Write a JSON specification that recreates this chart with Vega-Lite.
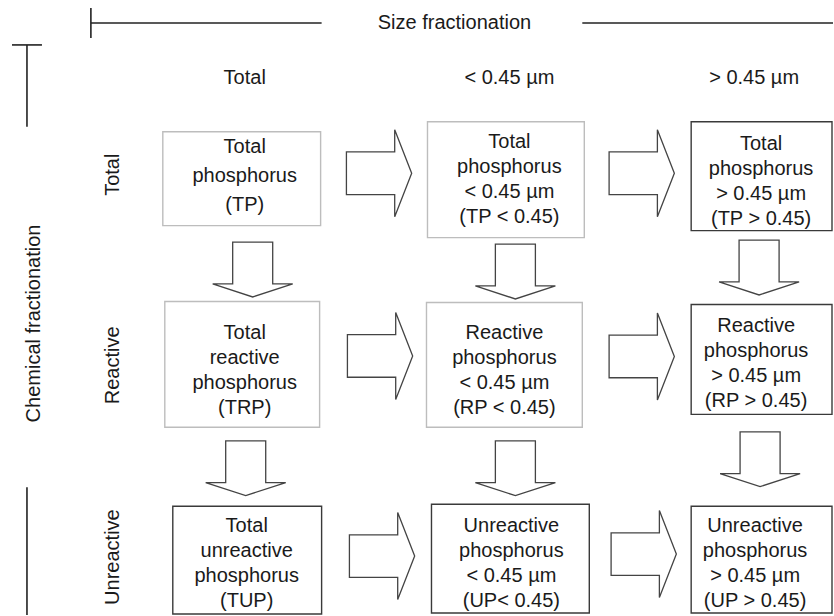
{
  "$schema": "https://vega.github.io/schema/vega-lite/v6.json",
  "width": 834,
  "height": 616,
  "autosize": {"type": "fit", "contains": "padding"},
  "padding": 0,
  "background": "white",
  "config": {"view": {"stroke": null}},
  "datasets": {
    "rules": [
      {"part": "size left", "x": 91, "x2": 322, "y": 23, "y2": 23},
      {"part": "size tick", "x": 91, "x2": 91, "y": 8, "y2": 38},
      {"part": "size right", "x": 583, "x2": 834, "y": 23, "y2": 23},
      {"part": "chem tick", "x": 12, "x2": 42, "y": 45, "y2": 45},
      {"part": "chem top", "x": 27, "x2": 27, "y": 45, "y2": 127},
      {"part": "chem bottom", "x": 27, "x2": 27, "y": 488, "y2": 616}
    ],
    "boxes": [
      {"id": "TP", "type": "measured", "x": 163, "x2": 321, "y": 132, "y2": 226, "cx": 245, "cy": 147, "label": ["Total", "phosphorus", "(TP)"]},
      {"id": "TP<0.45", "type": "measured", "x": 428, "x2": 585, "y": 122, "y2": 238, "cx": 510, "cy": 142, "label": ["Total", "phosphorus", "< 0.45 µm", "(TP < 0.45)"]},
      {"id": "TP>0.45", "type": "calculated", "x": 692, "x2": 833, "y": 122, "y2": 231, "cx": 762, "cy": 144, "label": ["Total", "phosphorus", "> 0.45 µm", "(TP > 0.45)"]},
      {"id": "TRP", "type": "measured", "x": 165, "x2": 320, "y": 302, "y2": 428, "cx": 245, "cy": 334, "label": ["Total", "reactive", "phosphorus", "(TRP)"]},
      {"id": "RP<0.45", "type": "measured", "x": 427, "x2": 583, "y": 303, "y2": 428, "cx": 505, "cy": 334, "label": ["Reactive", "phosphorus", "< 0.45 µm", "(RP < 0.45)"]},
      {"id": "RP>0.45", "type": "calculated", "x": 692, "x2": 833, "y": 305, "y2": 415, "cx": 757, "cy": 327, "label": ["Reactive", "phosphorus", "> 0.45 µm", "(RP > 0.45)"]},
      {"id": "TUP", "type": "calculated", "x": 173, "x2": 322, "y": 507, "y2": 615, "cx": 247, "cy": 527, "label": ["Total", "unreactive", "phosphorus", "(TUP)"]},
      {"id": "UP<0.45", "type": "calculated", "x": 432, "x2": 590, "y": 505, "y2": 614, "cx": 512, "cy": 527, "label": ["Unreactive", "phosphorus", "< 0.45 µm", "(UP<  0.45)"]},
      {"id": "UP>0.45", "type": "calculated", "x": 692, "x2": 833, "y": 507, "y2": 614, "cx": 756, "cy": 527, "label": ["Unreactive", "phosphorus", "> 0.45 µm", "(UP > 0.45)"]}
    ],
    "arrows": [
      {"from": "TP", "to": "TP<0.45", "direction": "right", "x": 379.5, "y": 173.5},
      {"from": "TP<0.45", "to": "TP>0.45", "direction": "right", "x": 642.5, "y": 173.5},
      {"from": "TRP", "to": "RP<0.45", "direction": "right", "x": 380.5, "y": 356.5},
      {"from": "RP<0.45", "to": "RP>0.45", "direction": "right", "x": 642.5, "y": 357},
      {"from": "TUP", "to": "UP<0.45", "direction": "right", "x": 382.5, "y": 557},
      {"from": "UP<0.45", "to": "UP>0.45", "direction": "right", "x": 644.5, "y": 555},
      {"from": "TP", "to": "TRP", "direction": "down", "x": 253, "y": 270},
      {"from": "TP<0.45", "to": "RP<0.45", "direction": "down", "x": 516, "y": 272},
      {"from": "TP>0.45", "to": "RP>0.45", "direction": "down", "x": 760, "y": 268},
      {"from": "TRP", "to": "TUP", "direction": "down", "x": 246, "y": 469},
      {"from": "RP<0.45", "to": "UP<0.45", "direction": "down", "x": 516, "y": 469},
      {"from": "RP>0.45", "to": "UP>0.45", "direction": "down", "x": 761, "y": 460}
    ],
    "labels": [
      {"text": "Size fractionation", "orient": "horizontal", "x": 455, "y": 23},
      {"text": "Total", "orient": "horizontal", "x": 245, "y": 78},
      {"text": "< 0.45 µm", "orient": "horizontal", "x": 510, "y": 78},
      {"text": "> 0.45 µm", "orient": "horizontal", "x": 755, "y": 78},
      {"text": "Chemical fractionation", "orient": "vertical", "x": 34, "y": 324},
      {"text": "Total", "orient": "vertical", "x": 113, "y": 175},
      {"text": "Reactive", "orient": "vertical", "x": 113, "y": 366},
      {"text": "Unreactive", "orient": "vertical", "x": 113, "y": 558}
    ]
  },
  "encoding": {
    "x": {"field": "x", "type": "quantitative", "scale": {"domain": [0, 834], "nice": false, "zero": false}, "axis": null},
    "y": {"field": "y", "type": "quantitative", "scale": {"domain": [0, 616], "nice": false, "zero": false, "reverse": true}, "axis": null}
  },
  "layer": [
    {
      "data": {"name": "rules"},
      "mark": {"type": "rule", "stroke": "#222", "strokeWidth": 1.6},
      "encoding": {
        "x2": {"field": "x2"},
        "y2": {"field": "y2"}
      }
    },
    {
      "data": {"name": "boxes"},
      "mark": {"type": "rect", "fill": "white", "strokeWidth": 1.4},
      "encoding": {
        "x2": {"field": "x2"},
        "y2": {"field": "y2"},
        "stroke": {"field": "type", "type": "nominal", "scale": {"domain": ["measured", "calculated"], "range": ["#bdbdbd", "#3a3a3a"]}, "legend": null},
        "strokeDash": {"field": "type", "type": "nominal", "scale": {"domain": ["measured", "calculated"], "range": [[2, 3], [1, 0]]}, "legend": null}
      }
    },
    {
      "data": {"name": "boxes"},
      "transform": [{"filter": "length(datum.label) == 3"}],
      "mark": {"type": "text", "font": "Liberation Sans", "fontSize": 20, "lineHeight": 29, "align": "center", "baseline": "middle", "color": "#1a1a1a"},
      "encoding": {
        "x": {"field": "cx", "type": "quantitative", "scale": {"domain": [0, 834], "nice": false, "zero": false}, "axis": null},
        "y": {"field": "cy", "type": "quantitative", "scale": {"domain": [0, 616], "nice": false, "zero": false, "reverse": true}, "axis": null},
        "text": {"field": "label"}
      }
    },
    {
      "data": {"name": "boxes"},
      "transform": [{"filter": "length(datum.label) == 4"}],
      "mark": {"type": "text", "font": "Liberation Sans", "fontSize": 20, "lineHeight": 25, "align": "center", "baseline": "middle", "color": "#1a1a1a"},
      "encoding": {
        "x": {"field": "cx", "type": "quantitative", "scale": {"domain": [0, 834], "nice": false, "zero": false}, "axis": null},
        "y": {"field": "cy", "type": "quantitative", "scale": {"domain": [0, 616], "nice": false, "zero": false, "reverse": true}, "axis": null},
        "text": {"field": "label"}
      }
    },
    {
      "data": {"name": "arrows"},
      "mark": {"type": "point", "filled": false, "fill": "white", "stroke": "#444", "strokeWidth": 1.3, "opacity": 1, "size": 7569},
      "encoding": {
        "shape": {"field": "direction", "type": "nominal", "scale": {"domain": ["right", "down"], "range": ["M-0.75,-0.49L0.36,-0.49L0.36,-1L0.75,0L0.36,1L0.36,0.49L-0.75,0.49Z", "M-0.46,-0.63L0.46,-0.63L0.46,0.33L0.92,0.33L0,0.63L-0.92,0.33L-0.46,0.33Z"]}, "legend": null}
      }
    },
    {
      "data": {"name": "labels"},
      "transform": [{"filter": "datum.orient == 'horizontal'"}],
      "mark": {"type": "text", "font": "Liberation Sans", "fontSize": 20, "align": "center", "baseline": "middle", "color": "#1a1a1a"},
      "encoding": {"text": {"field": "text"}}
    },
    {
      "data": {"name": "labels"},
      "transform": [{"filter": "datum.orient == 'vertical'"}],
      "mark": {"type": "text", "font": "Liberation Sans", "fontSize": 20, "align": "center", "baseline": "middle", "angle": 270, "color": "#1a1a1a"},
      "encoding": {"text": {"field": "text"}}
    }
  ]
}
